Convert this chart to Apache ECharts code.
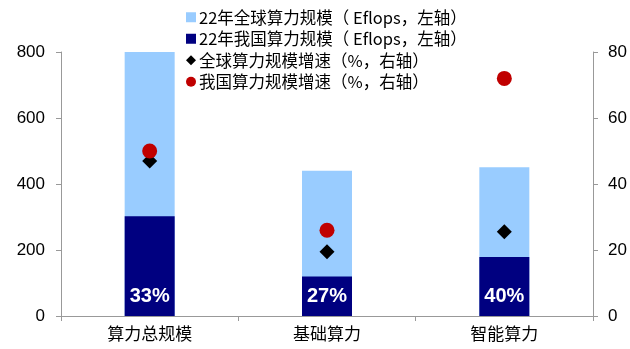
<!DOCTYPE html>
<html>
<head>
<meta charset="utf-8">
<script src="https://cdn.jsdelivr.net/npm/echarts@6/dist/echarts.min.js"></script>
<style>
  html, body { margin: 0; padding: 0; background: #fff; }
  #chart { width: 630px; height: 349px; }
</style>
</head>
<body>
<div id="chart"></div>
<script>
// Categories along the x axis
const categories = ['算力总规模', '基础算力', '智能算力'];
// 2022 compute scale, EFLOPS (left axis)
const globalScale = [906, 440, 451];
const chinaScale = [302, 120, 178.5];
// Growth rates, % (right axis)
const globalGrowth = [47, 19.5, 25.5];
const chinaGrowth = [50, 26, 72];
// China's share of the global scale, printed inside the dark bars
const chinaShare = ['33%', '27%', '40%'];
// Axis ticks
const leftTicks = { min: 0, max: 800, interval: 200 };
const rightTicks = { min: 0, max: 80, interval: 20 };

const seriesNames = [
  '22年全球算力规模（ Eflops，左轴）',
  '22年我国算力规模（ Eflops，左轴）',
  '全球算力规模增速（%，右轴）',
  '我国算力规模增速（%，右轴）'
];

const latin = '"Liberation Sans", Arial, sans-serif';
const cjk = '"Noto Sans CJK SC", sans-serif';
const axisLineStyle = { color: '#999999', width: 1 };

const chart = echarts.init(document.getElementById('chart'), null, { renderer: 'canvas' });

chart.setOption({
  animation: false,
  backgroundColor: '#ffffff',
  grid: { left: 61, right: 37, top: 52, bottom: 33, containLabel: false },
  legend: {
    orient: 'vertical',
    left: 181,
    top: 4,
    itemWidth: 10,
    itemHeight: 10,
    itemGap: 5,
    textStyle: { fontFamily: cjk, fontSize: 16.5, color: '#000', padding: [0, 0, 0, -2] },
    data: [
      { name: seriesNames[0], icon: 'rect' },
      { name: seriesNames[1], icon: 'rect' },
      { name: seriesNames[2], icon: 'diamond' },
      { name: seriesNames[3], icon: 'circle' }
    ]
  },
  xAxis: {
    type: 'category',
    data: categories,
    axisLine: { lineStyle: axisLineStyle },
    axisTick: { show: true, alignWithLabel: false, length: 5, lineStyle: axisLineStyle },
    axisLabel: { fontFamily: cjk, fontSize: 17, color: '#000', margin: 9 },
    splitLine: { show: false }
  },
  yAxis: [
    {
      type: 'value',
      min: leftTicks.min, max: leftTicks.max, interval: leftTicks.interval,
      axisLine: { show: true, lineStyle: axisLineStyle },
      axisTick: { show: true, length: 5, lineStyle: axisLineStyle },
      axisLabel: { fontFamily: latin, fontSize: 17, color: '#000', margin: 16 },
      splitLine: { show: false }
    },
    {
      type: 'value',
      position: 'right',
      min: rightTicks.min, max: rightTicks.max, interval: rightTicks.interval,
      axisLine: { show: true, lineStyle: axisLineStyle },
      axisTick: { show: true, length: 5, lineStyle: axisLineStyle },
      axisLabel: { fontFamily: latin, fontSize: 17, color: '#000', margin: 15 },
      splitLine: { show: false }
    }
  ],
  series: [
    {
      name: seriesNames[0],
      type: 'bar',
      yAxisIndex: 0,
      data: globalScale,
      barWidth: 50,
      barGap: '-100%',
      itemStyle: { color: '#99CCFF' },
      clip: true
    },
    {
      name: seriesNames[1],
      type: 'bar',
      yAxisIndex: 0,
      data: chinaScale,
      barWidth: 50,
      barGap: '-100%',
      itemStyle: { color: '#000080' },
      label: {
        show: true,
        position: 'insideBottom',
        distance: 10,
        fontFamily: latin,
        fontSize: 20,
        fontWeight: 'bold',
        color: '#ffffff',
        formatter: p => chinaShare[p.dataIndex]
      }
    },
    {
      name: seriesNames[2],
      type: 'scatter',
      yAxisIndex: 1,
      data: globalGrowth,
      symbol: 'diamond',
      symbolSize: 15,
      itemStyle: { color: '#000000', opacity: 1 }
    },
    {
      name: seriesNames[3],
      type: 'scatter',
      yAxisIndex: 1,
      data: chinaGrowth,
      symbol: 'circle',
      symbolSize: 15,
      itemStyle: { color: '#C00000', opacity: 1 }
    }
  ]
});
</script>
</body>
</html>
